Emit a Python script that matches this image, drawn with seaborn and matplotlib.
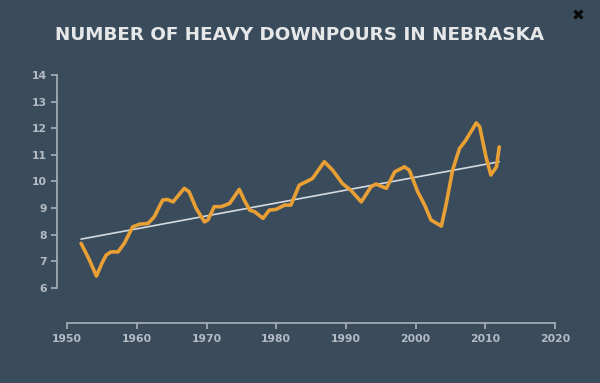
import matplotlib
matplotlib.use("Agg")
import matplotlib.pyplot as plt
import pandas as pd
import seaborn as sns

# ── data ─────────────────────────────────────────────────────────────────────
years = [1952.0, 1953.2, 1954.2, 1955.0, 1955.6, 1956.3, 1957.3, 1958.2, 1959.4,
         1960.4, 1961.6, 1962.5, 1963.7, 1964.4, 1965.2, 1966.8, 1967.5, 1968.5,
         1969.7, 1970.2, 1971.1, 1972.1, 1973.3, 1974.7, 1975.4, 1976.2, 1976.9,
         1978.1, 1979.0, 1980.0, 1981.2, 1982.1, 1983.3, 1984.3, 1985.2, 1986.9,
         1988.1, 1989.5, 1990.7, 1992.2, 1993.6, 1994.3, 1995.8, 1997.0, 1998.4,
         1999.1, 2000.3, 2001.3, 2002.2, 2003.7, 2004.4, 2005.3, 2006.3, 2007.2,
         2008.7, 2009.2, 2010.1, 2010.8, 2011.6, 2012.0]
downpours = [7.67, 7.04, 6.44, 6.93, 7.23, 7.35, 7.35, 7.67, 8.29,
             8.39, 8.42, 8.67, 9.30, 9.32, 9.23, 9.74, 9.61, 8.99,
             8.48, 8.55, 9.05, 9.05, 9.17, 9.70, 9.30, 8.92, 8.86,
             8.61, 8.92, 8.95, 9.11, 9.11, 9.86, 9.99, 10.11, 10.74,
             10.42, 9.92, 9.67, 9.23, 9.80, 9.90, 9.74, 10.36, 10.55,
             10.42, 9.61, 9.11, 8.55, 8.32, 9.17, 10.42, 11.24, 11.55,
             12.20, 12.05, 10.92, 10.24, 10.55, 11.30]

trend_years = [1952, 2012]
trend_values = [7.83, 10.74]

x_ticks = [1950, 1960, 1970, 1980, 1990, 2000, 2010, 2020]
y_ticks = [6, 7, 8, 9, 10, 11, 12, 13, 14]

BG = "#3a4b5c"
ORANGE = "#e8a035"
AXIS = "#a9b1ba"
LABEL = "#b3bbc4"

sns.set_theme(style="ticks", rc={
    "figure.facecolor": BG,
    "axes.facecolor": BG,
    "axes.edgecolor": AXIS,
    "xtick.color": AXIS,
    "ytick.color": AXIS,
})
plt.rcParams["font.family"] = ["DejaVu Sans"]

fig = plt.figure(figsize=(6, 3.83), dpi=100)
ax = fig.add_axes([0.0945, 0.157, 0.8305, 0.647])

df = pd.DataFrame({"year": years, "value": downpours})
trend = pd.DataFrame({"year": trend_years, "value": trend_values})

sns.lineplot(data=trend, x="year", y="value", ax=ax, color="#d5dae0",
             linewidth=1.2, zorder=2)
sns.lineplot(data=df, x="year", y="value", ax=ax, color=ORANGE,
             linewidth=2.6, zorder=3, sort=False)
ax.lines[-1].set_solid_joinstyle("round")

ax.set_xlim(1948.5, 2020)
ax.set_ylim(4.68, 14)
ax.set_xticks(x_ticks)
ax.set_yticks(y_ticks)
ax.set_xlabel("")
ax.set_ylabel("")

for s in ["top", "right"]:
    ax.spines[s].set_visible(False)
ax.spines["left"].set_bounds(6, 14)
ax.spines["bottom"].set_bounds(1950, 2020)
ax.spines["left"].set_linewidth(1.2)
ax.spines["bottom"].set_linewidth(1.2)

ax.tick_params(axis="both", length=4, width=1.2, labelsize=7.8,
               labelcolor=LABEL)
ax.tick_params(axis="y", pad=3)
ax.tick_params(axis="x", pad=4)
for lbl in ax.get_xticklabels() + ax.get_yticklabels():
    lbl.set_fontweight("bold")

fig.text(0.5, 0.908, "NUMBER OF HEAVY DOWNPOURS IN NEBRASKA",
         ha="center", va="center", fontsize=13.2, fontweight="bold",
         color="#e6e7e8")
fig.text(0.963, 0.958, "\u2716", ha="center", va="center", fontsize=11,
         color="#0a0a0a")

fig.savefig("out.png", dpi=100, facecolor=BG)
